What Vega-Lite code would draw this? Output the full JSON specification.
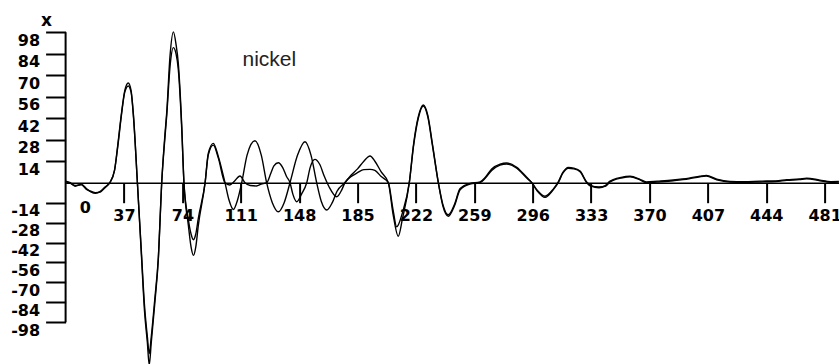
{
  "$schema": "https://vega.github.io/schema/vega-lite/v6.json",
  "width": 773.4,
  "height": 364,
  "autosize": {"type": "none"},
  "padding": {"left": 65.6, "top": 0, "right": 0, "bottom": 0},
  "background": "white",
  "config": {"view": {"stroke": null}},
  "layer": [
    {
      "data": {"values": [
        {"k":0,"v":1,"s":"a"},{"k":3,"v":0,"s":"a"},{"k":6,"v":-2.5,"s":"a"},{"k":10,"v":-1,"s":"a"},{"k":13,"v":-4,"s":"a"},{"k":16,"v":-6.5,"s":"a"},{"k":19,"v":-7.5,"s":"a"},{"k":22,"v":-6,"s":"a"},{"k":25,"v":-3,"s":"a"},{"k":28,"v":0,"s":"a"},{"k":31,"v":8,"s":"a"},{"k":33,"v":24,"s":"a"},{"k":35.5,"v":46,"s":"a"},{"k":37.5,"v":60,"s":"a"},{"k":39.7,"v":65,"s":"a"},{"k":41.5,"v":60,"s":"a"},{"k":43,"v":44,"s":"a"},{"k":45.5,"v":0,"s":"a"},{"k":48,"v":-50,"s":"a"},{"k":50,"v":-90,"s":"a"},{"k":51.8,"v":-112,"s":"a"},{"k":53,"v":-128,"s":"a"},{"k":54.3,"v":-112,"s":"a"},{"k":56.5,"v":-85,"s":"a"},{"k":58.8,"v":-53,"s":"a"},{"k":60.9,"v":0,"s":"a"},{"k":63,"v":32,"s":"a"},{"k":64.1,"v":46,"s":"a"},{"k":66.2,"v":83,"s":"a"},{"k":68.3,"v":98.3,"s":"a"},{"k":70,"v":90,"s":"a"},{"k":71.4,"v":78,"s":"a"},{"k":73.6,"v":37,"s":"a"},{"k":75,"v":0,"s":"a"},{"k":77.8,"v":-30,"s":"a"},{"k":79.5,"v":-45,"s":"a"},{"k":81,"v":-51,"s":"a"},{"k":82.5,"v":-45,"s":"a"},{"k":84.1,"v":-30,"s":"a"},{"k":88.4,"v":0,"s":"a"},{"k":90.4,"v":19,"s":"a"},{"k":93.6,"v":25.6,"s":"a"},{"k":96.8,"v":17,"s":"a"},{"k":101,"v":0,"s":"a"},{"k":103.5,"v":-12,"s":"a"},{"k":106.3,"v":-18.8,"s":"a"},{"k":109,"v":-12,"s":"a"},{"k":111.6,"v":0,"s":"a"},{"k":115,"v":18,"s":"a"},{"k":120,"v":27.3,"s":"a"},{"k":124,"v":18,"s":"a"},{"k":127.4,"v":0,"s":"a"},{"k":131,"v":-14,"s":"a"},{"k":134.8,"v":-20.4,"s":"a"},{"k":138.5,"v":-14,"s":"a"},{"k":142.2,"v":0,"s":"a"},{"k":147,"v":18,"s":"a"},{"k":151.7,"v":26.7,"s":"a"},{"k":155.5,"v":18,"s":"a"},{"k":159.1,"v":0,"s":"a"},{"k":162,"v":-13,"s":"a"},{"k":165.5,"v":-19.2,"s":"a"},{"k":169,"v":-14,"s":"a"},{"k":172,"v":-6,"s":"a"},{"k":177,"v":0,"s":"a"},{"k":181,"v":5,"s":"a"},{"k":185,"v":9,"s":"a"},{"k":189,"v":14,"s":"a"},{"k":192.9,"v":17.4,"s":"a"},{"k":196,"v":14,"s":"a"},{"k":200,"v":7,"s":"a"},{"k":204.5,"v":0,"s":"a"},{"k":207.5,"v":-22,"s":"a"},{"k":210.8,"v":-37.6,"s":"a"},{"k":213.5,"v":-25,"s":"a"},{"k":217.8,"v":0,"s":"a"},{"k":220.5,"v":25,"s":"a"},{"k":223.5,"v":43,"s":"a"},{"k":226.7,"v":50.6,"s":"a"},{"k":229.5,"v":44,"s":"a"},{"k":232.5,"v":25,"s":"a"},{"k":236.2,"v":0,"s":"a"},{"k":239,"v":-16,"s":"a"},{"k":242.5,"v":-23.5,"s":"a"},{"k":246.5,"v":-16,"s":"a"},{"k":250,"v":-5,"s":"a"},{"k":256.3,"v":-1,"s":"a"},{"k":262.6,"v":0,"s":"a"},{"k":266,"v":3,"s":"a"},{"k":270,"v":8,"s":"a"},{"k":275.3,"v":11.5,"s":"a"},{"k":279.5,"v":12.2,"s":"a"},{"k":285.9,"v":9.4,"s":"a"},{"k":292.2,"v":3,"s":"a"},{"k":295.4,"v":0,"s":"a"},{"k":299,"v":-6,"s":"a"},{"k":303.8,"v":-10.3,"s":"a"},{"k":309,"v":-5,"s":"a"},{"k":312.2,"v":0,"s":"a"},{"k":315,"v":6,"s":"a"},{"k":318.6,"v":9.4,"s":"a"},{"k":322,"v":9,"s":"a"},{"k":326,"v":7.2,"s":"a"},{"k":330.2,"v":0,"s":"a"},{"k":333,"v":-2.5,"s":"a"},{"k":338,"v":-3,"s":"a"},{"k":342,"v":-2.5,"s":"a"},{"k":345,"v":0.5,"s":"a"},{"k":347,"v":1.5,"s":"a"},{"k":352,"v":3,"s":"a"},{"k":357.7,"v":3.9,"s":"a"},{"k":364,"v":1.8,"s":"a"},{"k":368,"v":0,"s":"a"},{"k":375,"v":0.5,"s":"a"},{"k":385,"v":1.3,"s":"a"},{"k":395,"v":2.5,"s":"a"},{"k":402,"v":3.9,"s":"a"},{"k":406,"v":4.3,"s":"a"},{"k":412.6,"v":1.9,"s":"a"},{"k":421,"v":0.4,"s":"a"},{"k":430,"v":0.2,"s":"a"},{"k":440,"v":0.5,"s":"a"},{"k":450,"v":0.8,"s":"a"},{"k":457,"v":1.5,"s":"a"},{"k":465,"v":2,"s":"a"},{"k":469.6,"v":2.6,"s":"a"},{"k":478,"v":1.3,"s":"a"},{"k":485,"v":0.3,"s":"a"},{"k":490,"v":0.5,"s":"a"},
        {"k":0,"v":0.5,"s":"b"},{"k":3,"v":-0.5,"s":"b"},{"k":6,"v":-2,"s":"b"},{"k":10,"v":-1.5,"s":"b"},{"k":13,"v":-4.5,"s":"b"},{"k":16,"v":-6,"s":"b"},{"k":19,"v":-7,"s":"b"},{"k":22,"v":-6.5,"s":"b"},{"k":25,"v":-3.5,"s":"b"},{"k":28,"v":0,"s":"b"},{"k":31,"v":8,"s":"b"},{"k":33,"v":23,"s":"b"},{"k":35.5,"v":45,"s":"b"},{"k":37.5,"v":59,"s":"b"},{"k":39.7,"v":63,"s":"b"},{"k":41.5,"v":59,"s":"b"},{"k":43,"v":43,"s":"b"},{"k":45.5,"v":0,"s":"b"},{"k":48,"v":-48,"s":"b"},{"k":50,"v":-86,"s":"b"},{"k":51.8,"v":-108,"s":"b"},{"k":53,"v":-120,"s":"b"},{"k":54.3,"v":-108,"s":"b"},{"k":56.5,"v":-82,"s":"b"},{"k":58.8,"v":-52,"s":"b"},{"k":60.9,"v":0,"s":"b"},{"k":63,"v":30,"s":"b"},{"k":64.1,"v":44,"s":"b"},{"k":66.2,"v":76,"s":"b"},{"k":68.3,"v":88,"s":"b"},{"k":70,"v":84,"s":"b"},{"k":71.4,"v":74,"s":"b"},{"k":73.6,"v":35,"s":"b"},{"k":75,"v":0,"s":"b"},{"k":77.8,"v":-26,"s":"b"},{"k":79.5,"v":-36,"s":"b"},{"k":81,"v":-40,"s":"b"},{"k":82.5,"v":-36,"s":"b"},{"k":84.1,"v":-25,"s":"b"},{"k":88.4,"v":0,"s":"b"},{"k":90.4,"v":18,"s":"b"},{"k":93.6,"v":24.5,"s":"b"},{"k":96.8,"v":16,"s":"b"},{"k":101,"v":0,"s":"b"},{"k":104,"v":-1.6,"s":"b"},{"k":107,"v":1,"s":"b"},{"k":110.5,"v":4.4,"s":"b"},{"k":113.7,"v":0,"s":"b"},{"k":117,"v":-2,"s":"b"},{"k":121,"v":-2.3,"s":"b"},{"k":124,"v":-1,"s":"b"},{"k":127.4,"v":0,"s":"b"},{"k":130,"v":6,"s":"b"},{"k":132,"v":11,"s":"b"},{"k":134.8,"v":13,"s":"b"},{"k":137.5,"v":10,"s":"b"},{"k":140,"v":4,"s":"b"},{"k":142.2,"v":0,"s":"b"},{"k":144,"v":-8,"s":"b"},{"k":146.5,"v":-13.4,"s":"b"},{"k":149.5,"v":-8,"s":"b"},{"k":152.8,"v":0,"s":"b"},{"k":155,"v":10,"s":"b"},{"k":158,"v":15.2,"s":"b"},{"k":161,"v":12,"s":"b"},{"k":164,"v":4,"s":"b"},{"k":167,"v":-3,"s":"b"},{"k":171.8,"v":-9.9,"s":"b"},{"k":175,"v":-5,"s":"b"},{"k":177,"v":0,"s":"b"},{"k":181,"v":4,"s":"b"},{"k":185,"v":6.5,"s":"b"},{"k":189,"v":8.5,"s":"b"},{"k":192.9,"v":8.7,"s":"b"},{"k":196,"v":8,"s":"b"},{"k":200,"v":4,"s":"b"},{"k":204.5,"v":0,"s":"b"},{"k":207.5,"v":-19,"s":"b"},{"k":209.8,"v":-31,"s":"b"},{"k":213.5,"v":-21,"s":"b"},{"k":217.8,"v":0,"s":"b"},{"k":220.5,"v":24,"s":"b"},{"k":223.5,"v":42,"s":"b"},{"k":226.7,"v":50,"s":"b"},{"k":229.5,"v":43,"s":"b"},{"k":232.5,"v":24,"s":"b"},{"k":236.2,"v":0,"s":"b"},{"k":239,"v":-15,"s":"b"},{"k":242.5,"v":-22.5,"s":"b"},{"k":246.5,"v":-15,"s":"b"},{"k":250,"v":-4,"s":"b"},{"k":256.3,"v":-0.5,"s":"b"},{"k":262.6,"v":0.5,"s":"b"},{"k":266,"v":3.5,"s":"b"},{"k":270,"v":9,"s":"b"},{"k":275.3,"v":12,"s":"b"},{"k":279.5,"v":12.8,"s":"b"},{"k":285.9,"v":10,"s":"b"},{"k":292.2,"v":3.5,"s":"b"},{"k":295.4,"v":0,"s":"b"},{"k":299,"v":-5.5,"s":"b"},{"k":303.8,"v":-9.5,"s":"b"},{"k":309,"v":-4.5,"s":"b"},{"k":312.2,"v":0.5,"s":"b"},{"k":315,"v":6.5,"s":"b"},{"k":318.6,"v":10,"s":"b"},{"k":322,"v":9.5,"s":"b"},{"k":326,"v":7.6,"s":"b"},{"k":330.2,"v":0.5,"s":"b"},{"k":333,"v":-2,"s":"b"},{"k":338,"v":-3.5,"s":"b"},{"k":342,"v":-2,"s":"b"},{"k":345,"v":1,"s":"b"},{"k":347,"v":2,"s":"b"},{"k":352,"v":3.5,"s":"b"},{"k":357.7,"v":4.2,"s":"b"},{"k":364,"v":2.2,"s":"b"},{"k":368,"v":0.5,"s":"b"},{"k":375,"v":1,"s":"b"},{"k":385,"v":1.8,"s":"b"},{"k":395,"v":3,"s":"b"},{"k":402,"v":4.3,"s":"b"},{"k":406,"v":4.8,"s":"b"},{"k":412.6,"v":2.3,"s":"b"},{"k":421,"v":0.8,"s":"b"},{"k":430,"v":0.6,"s":"b"},{"k":440,"v":1,"s":"b"},{"k":450,"v":1.2,"s":"b"},{"k":457,"v":1.9,"s":"b"},{"k":465,"v":2.4,"s":"b"},{"k":469.6,"v":3,"s":"b"},{"k":478,"v":1.7,"s":"b"},{"k":485,"v":0.7,"s":"b"},{"k":490,"v":0.8,"s":"b"}
      ]},
      "mark": {"type": "line", "interpolate": "monotone", "color": "black", "strokeWidth": 1.4, "clip": false},
      "encoding": {
        "x": {
          "field": "k", "type": "quantitative",
          "scale": {"domain": [0, 490.1], "nice": false, "zero": false},
          "axis": {
            "values": [37, 74, 111, 148, 185, 222, 259, 296, 333, 370, 407, 444, 481],
            "tickCount": 40,
            "offset": -181.3,
            "title": null, "grid": false,
            "domain": true, "domainColor": "black", "domainWidth": 1.5,
            "ticks": true, "tickSize": 20, "tickWidth": 2, "tickColor": "black",
            "labelFont": "DejaVu Sans", "labelFontWeight": "bold", "labelFontSize": 16,
            "labelColor": "black", "labelPadding": 5, "labelFlush": false, "labelOverlap": false,
            "labelExpr": "'' + datum.value"
          }
        },
        "y": {
          "field": "v", "type": "quantitative",
          "scale": {"domain": [-98, 0, 98], "range": [322.3, 182.7, 32.3], "nice": false, "zero": false},
          "axis": {
            "values": [-98, -84, -70, -56, -42, -28, -14, 14, 28, 42, 56, 70, 84, 98],
            "tickCount": 40,
            "domain": false, "grid": false,
            "ticks": true, "tickSize": 20, "tickWidth": 2, "tickColor": "black",
            "labelFont": "DejaVu Sans", "labelFontWeight": "bold", "labelFontSize": 16,
            "labelColor": "black", "labelPadding": 6, "labelBaseline": "top", "labelOverlap": false,
            "labelExpr": "'' + datum.value",
            "title": "x", "titleAngle": 0, "titleX": -19.6, "titleY": 20,
            "titleAlign": "center", "titleBaseline": "middle",
            "titleFont": "DejaVu Sans", "titleFontWeight": "bold", "titleFontSize": 17, "titleColor": "black"
          }
        },
        "detail": {"field": "s", "type": "nominal"}
      }
    },
    {
      "data": {"values": [{}]},
      "mark": {"type": "rule", "color": "black", "strokeWidth": 2},
      "encoding": {
        "x": {"datum": 0, "type": "quantitative"},
        "y": {"datum": -98, "type": "quantitative"},
        "y2": {"datum": 98}
      }
    },
    {
      "data": {"values": [{}]},
      "mark": {"type": "text", "font": "Liberation Sans", "fontSize": 21, "color": "#222", "align": "center", "baseline": "alphabetic"},
      "encoding": {
        "x": {"datum": 129.1, "type": "quantitative"},
        "y": {"datum": 76.2, "type": "quantitative"},
        "text": {"value": "nickel"}
      }
    },
    {
      "data": {"values": [{}]},
      "mark": {"type": "text", "font": "DejaVu Sans", "fontWeight": "bold", "fontSize": 16, "color": "black", "align": "center", "baseline": "middle"},
      "encoding": {
        "x": {"datum": 12.5, "type": "quantitative"},
        "y": {"datum": -17.9, "type": "quantitative"},
        "text": {"value": "0"}
      }
    }
  ]
}
